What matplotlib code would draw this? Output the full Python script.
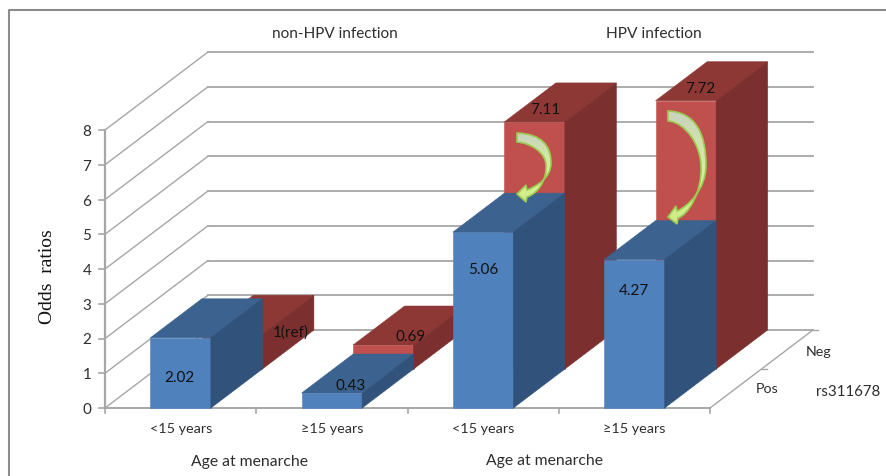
import numpy as np
import matplotlib
matplotlib.use("Agg")
import matplotlib.pyplot as plt
from matplotlib.patches import Polygon, PathPatch
from matplotlib.path import Path

categories = ["<15 years", "\u226515 years", "<15 years", "\u226515 years"]
pos_values = [2.02, 0.43, 5.06, 4.27]
neg_values = [1.0, 0.69, 7.11, 7.72]
pos_labels = ["2.02", "0.43", "5.06", "4.27"]
neg_labels = ["1(ref)", "0.69", "7.11", "7.72"]
yticks = [0, 1, 2, 3, 4, 5, 6, 7, 8]

plt.rcParams["font.family"] = ["Lato", "DejaVu Sans"]

W, H = 886, 476
PX_CAT = 151.25   # pixels per category
PX_VAL = 34.75    # pixels per odds ratio unit
X0, Y0 = 105, 408
SKEW_X = 103 / PX_CAT   # full depth offset in data units
SKEW_Y = 78 / PX_VAL
BAR_W = 0.4
TXT = "#2e2e2e"
GRID = "#a6a6a6"

fig = plt.figure(figsize=(W / 100, H / 100), dpi=100)
ax = fig.add_axes([0, 0, 1, 1])
ax.set_xlim(-X0 / PX_CAT, (W - X0) / PX_CAT)
ax.set_ylim(-(H - Y0) / PX_VAL, Y0 / PX_VAL)
ax.axis("off")


def proj(x, y, d):
    # oblique projection, d=0 front of floor, d=1 back wall
    return x + d * SKEW_X, y + d * SKEW_Y


def bar3d(i, val, d0, d1, front, top, side):
    x0 = i + (1 - BAR_W) / 2
    x1 = x0 + BAR_W
    a = proj(x0, 0, d0); b = proj(x1, 0, d0)
    c = proj(x1, val, d0); e = proj(x0, val, d0)
    f = proj(x0, val, d1); g = proj(x1, val, d1); h = proj(x1, 0, d1)
    ax.add_patch(Polygon([a, b, c, e], fc=front, ec=front, lw=0.4, zorder=3))
    ax.add_patch(Polygon([e, c, g, f], fc=top, ec=top, lw=0.4, zorder=3))
    ax.add_patch(Polygon([b, h, g, c], fc=side, ec=side, lw=0.4, zorder=3))


# walls and axes
n = len(categories)
for v in yticks:
    xs, ys = proj(0, v, 0), proj(0, v, 1)
    ax.plot([xs[0], ys[0]], [xs[1], ys[1]], color=GRID, lw=1.0, zorder=1)
    ax.plot([ys[0], ys[0] + n], [ys[1], ys[1]], color=GRID, lw=1.3, zorder=1)
    ax.plot([-6 / PX_CAT, 0], [v, v], color=GRID, lw=1.2, zorder=1)
    ax.text(-18 / PX_CAT, v - 2 / PX_VAL, str(v), ha="center", va="center", fontsize=11, color=TXT)
ax.plot([0, 0], [0, yticks[-1]], color=GRID, lw=1.6, zorder=2)
ax.plot([0, n], [0, 0], color=GRID, lw=1.4, zorder=2)
for i in range(n + 1):
    ax.plot([i, i], [0, -5 / PX_VAL], color=GRID, lw=1.2, zorder=2)
ax.plot([n, n + SKEW_X], [0, SKEW_Y], color=GRID, lw=1.0, zorder=2)
for d in [0.5, 1.0]:
    px, py = proj(n, 0, d)
    ax.plot([px, px + 5 / PX_CAT], [py, py], color=GRID, lw=1.0, zorder=2)

# bars, back row then front row
for i in range(n):
    bar3d(i, neg_values[i], 0.5, 1.0, "#c0504d", "#8e3836", "#7b2f2e")
for i in range(n):
    bar3d(i, pos_values[i], 0.0, 0.5, "#4f81bd", "#3c628f", "#30527b")

for i, lab in enumerate(categories):
    ax.text(i + 0.5, -21 / PX_VAL, lab, ha="center", va="center", fontsize=10.4, color=TXT)

# data labels
pos_xy = [(-0.01, 0.87), (0.125, 0.63), (0.0, 3.97), (0.0, 3.37)]
neg_xy = [(0.73, 2.17), (0.52, 2.04), (0.41, 8.57), (0.436, 9.17)]
for i in range(n):
    dx, y = pos_xy[i]
    ax.text(i + 0.5 + dx, y, pos_labels[i], ha="center", va="center", fontsize=11,
            color="#111111", zorder=6)
    dx, y = neg_xy[i]
    ax.text(i + 0.5 + dx, y, neg_labels[i], ha="center", va="center", fontsize=11,
            color="#111111", zorder=6)

# everything below sits in pixel coordinates of the original picture
ov = fig.add_axes([0, 0, 1, 1], facecolor="none")
ov.set_xlim(0, W)
ov.set_ylim(H, 0)
ov.axis("off")


def curved_arrow(tail_in, tail_out, mid_out, mid_in, neck_out, neck_in, barb1, tip, barb2):
    verts = [tail_out,
             (tail_out[0] + (mid_out[0] - tail_out[0]) * 0.75, tail_out[1] + 1), (mid_out[0], mid_out[1] - (mid_out[1] - tail_out[1]) * 0.55), mid_out,
             (mid_out[0], mid_out[1] + (neck_out[1] - mid_out[1]) * 0.55), (neck_out[0] + 10, neck_out[1] - 4), neck_out,
             barb1, tip, barb2, neck_in,
             (neck_in[0] + 10, neck_in[1] - 3), (mid_in[0] + 1, mid_in[1] + (neck_in[1] - mid_in[1]) * 0.5), mid_in,
             (mid_in[0], mid_in[1] - (mid_in[1] - tail_in[1]) * 0.5), (tail_in[0] + (mid_in[0] - tail_in[0]) * 0.5, tail_in[1] + 1), tail_in,
             tail_out]
    codes = [Path.MOVETO,
             Path.CURVE4, Path.CURVE4, Path.CURVE4,
             Path.CURVE4, Path.CURVE4, Path.CURVE4,
             Path.LINETO, Path.LINETO, Path.LINETO, Path.LINETO,
             Path.CURVE4, Path.CURVE4, Path.CURVE4,
             Path.CURVE4, Path.CURVE4, Path.CURVE4,
             Path.CLOSEPOLY]
    path = Path(verts, codes)
    ys = [p[1] for p in verts]
    xs = [p[0] for p in verts]
    grad = np.linspace(0, 1, 64).reshape(-1, 1)
    cmap = matplotlib.colors.LinearSegmentedColormap.from_list(
        "arrow", ["#c9d3c0", "#d2e6a6", "#dcf59a", "#cdea86"])
    im = ov.imshow(grad, cmap=cmap, extent=[min(xs), max(xs), max(ys), min(ys)],
                   aspect="auto", zorder=5)
    patch = PathPatch(path, fc="none", ec="#9ccb50", lw=1.2, zorder=6)
    ov.add_patch(patch)
    im.set_clip_path(patch)


curved_arrow((517, 142), (517, 133), (551, 163), (546, 165), (527, 190), (527, 197),
             (526, 185), (517, 194), (526, 202))
curved_arrow((668, 121), (668, 111), (706, 165), (701, 167), (677, 211), (678, 218),
             (676, 206), (668, 217), (677, 224))
ov.set_xlim(0, W)
ov.set_ylim(H, 0)

# picture frame
ov.plot([9.5, 9.5, 886], [476, 10, 10], color="#8c8c8c", lw=1.5, zorder=1)

ov.text(335, 34, "non-HPV infection", ha="center", va="center", fontsize=11, color=TXT)
ov.text(654, 34, "HPV infection", ha="center", va="center", fontsize=11.2, color=TXT)
ov.text(250, 462, "Age at menarche", ha="center", va="center", fontsize=11.3, color=TXT)
ov.text(545, 461, "Age at menarche", ha="center", va="center", fontsize=11.3, color=TXT)
ov.text(767, 389, "Pos", ha="center", va="center", fontsize=10.3, color=TXT)
ov.text(819, 352, "Neg", ha="center", va="center", fontsize=10.3, color=TXT)
ov.text(848, 392, "rs311678", ha="center", va="center", fontsize=10.8, color=TXT)
ov.text(48, 277, "Odds  ratios", ha="center", va="center", rotation=90, fontsize=14,
        family="Liberation Serif", color="#111111")

fig.savefig("out.png", dpi=100)
